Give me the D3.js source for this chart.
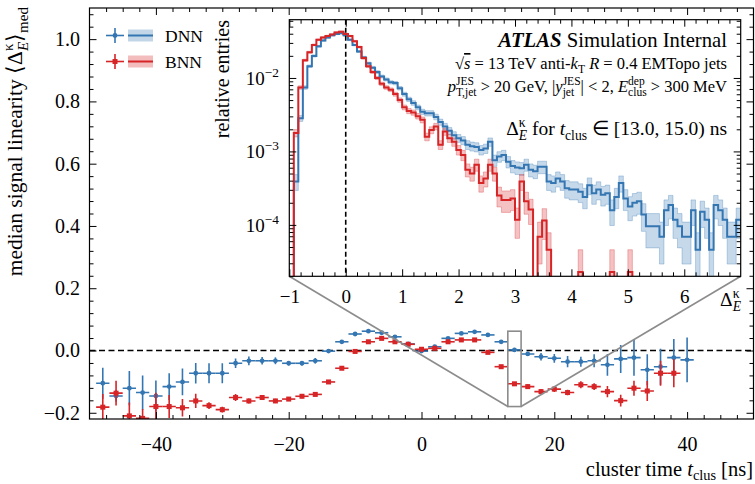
<!DOCTYPE html>
<html>
<head>
<meta charset="utf-8">
<script src="https://cdn.jsdelivr.net/npm/d3@7/dist/d3.min.js"></script>
<style>
  html, body { margin: 0; padding: 0; background: #fff; }
  svg { display: block; }
  text { font-family: "Liberation Serif", "Times New Roman", serif; fill: #000; white-space: pre; }
</style>
</head>
<body>
<svg id="chart" width="755" height="484"></svg>
<script>
// ---------- median signal linearity per 2 ns cluster-time bin ----------
const tClus = [-48,-46,-44,-42,-40,-38,-36,-34,-32,-30,-28,-26,-24,-22,-20,-18,-16,-14,-12,-10,
               -8,-6,-4,-2,0,2,4,6,8,10,12,14,16,18,20,22,24,26,28,30,32,34,36,38,40];
const tBinWidth = 2;
const dnnMedian = [-0.105,-0.146,-0.121,-0.135,-0.146,-0.116,-0.101,-0.073,-0.073,-0.073,
                   -0.041,-0.033,-0.033,-0.033,-0.041,-0.041,-0.033,-0.002,0.028,0.053,
                   0.062,0.057,0.044,0.021,-0.002,0.012,0.039,0.055,0.060,0.050,
                   0.028,0.002,-0.011,-0.020,-0.025,-0.036,-0.036,-0.033,-0.046,-0.027,
                   -0.023,-0.062,-0.052,-0.023,-0.030];
const dnnMedianErr = [0.050,0.018,0.055,0.055,0.050,0.043,0.043,0.033,0.032,0.032,
                      0.015,0.014,0.012,0.011,0.007,0.007,0.009,0.006,0.005,0.004,
                      0.004,0.004,0.004,0.004,0.004,0.004,0.004,0.004,0.004,0.004,
                      0.005,0.006,0.007,0.012,0.014,0.018,0.016,0.021,0.035,0.045,
                      0.058,0.050,0.058,0.060,0.072];
const bnnMedian = [-0.182,-0.137,-0.210,-0.218,-0.180,-0.180,-0.184,-0.162,-0.177,-0.190,
                   -0.151,-0.162,-0.151,-0.162,-0.156,-0.147,-0.141,-0.101,-0.057,-0.003,
                   0.028,0.039,0.028,0.020,0.004,0.007,0.028,0.034,0.034,-0.006,
                   -0.052,-0.107,-0.116,-0.132,-0.124,-0.135,-0.110,-0.116,-0.132,-0.161,
                   -0.121,-0.130,-0.073,-0.073,null];
const bnnMedianErr = [0.042,0.040,0.043,0.030,0.044,0.037,0.028,0.023,0.011,0.009,
                      0.011,0.008,0.007,0.007,0.006,0.006,0.006,0.005,0.005,0.004,
                      0.004,0.004,0.004,0.004,0.004,0.004,0.004,0.004,0.004,0.004,
                      0.005,0.005,0.008,0.008,0.009,0.009,0.011,0.011,0.018,0.019,
                      0.024,0.032,0.040,0.045,null];

// ---------- Delta distribution for t_clus in [13, 15) ns ----------
// log10(relative entries) per 0.08-wide bin starting at -1; null = empty bin
const deltaRange = [-1, 7];
const deltaBinWidth = 0.08;
const dnnLogEntries = [
  null,-3.41,-2.55,-2.13,-1.84,-1.70,-1.57,-1.49,-1.45,-1.42,
  -1.40,-1.39,-1.42,-1.48,-1.55,-1.64,-1.72,-1.80,-1.86,-1.92,
  -1.98,-2.02,-2.06,-2.07,-2.14,-2.22,-2.29,-2.34,-2.40,-2.46,
  -2.48,-2.48,-2.53,-2.60,-2.66,-2.72,-2.78,-2.82,-2.85,-2.91,
  -2.93,-2.94,-2.98,-2.96,-2.87,-3.12,-3.07,-3.05,-3.14,-3.20,
  -3.22,-3.23,-3.18,-3.25,-3.27,-3.21,-3.21,-3.41,-3.43,-3.37,
  -3.41,-3.50,-3.52,-3.52,-3.55,-3.62,-3.46,-3.57,-3.52,-3.59,
  -3.57,-3.80,-3.62,-3.43,-3.64,-3.75,-3.70,-3.68,-3.86,-4.02,
  -4.02,-4.02,-4.16,-3.80,-3.73,-3.93,-4.02,-4.16,-4.16,-3.80,
  -4.34,-3.82,-3.93,-4.34,-3.73,-3.80,-3.93,-4.16,-4.16,-3.93];
const bnnLogEntries = [
  null,-2.75,-2.13,-1.76,-1.65,-1.55,-1.48,-1.45,-1.43,-1.41,
  -1.38,-1.37,-1.40,-1.43,-1.50,-1.58,-1.73,-1.84,-1.92,-2.00,
  -2.08,-2.13,-2.16,-2.22,-2.30,-2.40,-2.45,-2.47,-2.52,-2.57,
  -2.80,-2.71,-2.66,-2.91,-2.73,-2.82,-2.87,-2.98,-3.05,-3.25,
  -3.30,-3.18,-3.43,-3.37,-3.18,-3.30,-3.60,-3.66,-3.66,-3.64,
  -3.93,-3.41,-3.68,-3.79,null,-4.16,-3.94,-4.34,null,null,
  null,null,null,null,-4.64,null,null,null,null,null,
  null,-4.64,null,null,null,-4.64,null,null,null,null,
  null,null,null,null,null,null,null,null,null,null,
  null,null,null,null,null,null,null,null,null,null];
const unitWeight = 2.3e-5;   // relative weight of one entry (Poisson band)

// ---------- axes ----------
const mainXTicks = [-40, -20, 0, 20, 40];
const mainYTicks = [-0.2, 0.0, 0.2, 0.4, 0.6, 0.8, 1.0];
const insetXTicks = [-1, 0, 1, 2, 3, 4, 5, 6];
const insetYDecades = [-4, -3, -2];
const zoomWindow = { t: [13, 15], y: [-0.18, 0.062] };
const seriesNames = ["DNN", "BNN"];

const BLUE = "#3476b2", RED = "#d62427", GREY = "#8c8c8c";
const FONT = '"Liberation Serif", "Times New Roman", serif';

const svg = d3.select("#chart");
const defs = svg.append("defs");

// rich text with sub/superscripts
function richText(parent, parts, size, attrs, subShift) {
  const t = parent.append("text").attr("font-size", size);
  Object.entries(attrs || {}).forEach(([k, v]) => t.attr(k, v));
  const sub = subShift == null ? 0.27 : subShift;
  let base = 0, prev = null;
  parts.forEach(p => {
    const o = typeof p === "string" ? { t: p } : p;
    const ts = t.append("tspan").text(o.t);
    const off = o.sub ? sub * size : o.sup ? -0.42 * size : 0;
    if (off !== base) ts.attr("dy", off - base);
    base = off;
    if (o.sub || o.sup) ts.attr("font-size", size * 0.7);
    if (o.it) ts.attr("font-style", "italic");
    if (o.bf) ts.attr("font-weight", "bold");
    if (o.over) ts.attr("text-decoration", "overline");
    if (o.stack && prev) ts.attr("dx", -prev.node().getComputedTextLength());
    prev = ts;
  });
  return t;
}

function styleAxis(g, size) {
  g.attr("font-family", FONT).attr("font-size", size);
  g.select(".domain").remove();
  g.selectAll(".tick line").attr("stroke", "#000").attr("stroke-width", 1);
  g.selectAll(".tick text").attr("fill", "#000");
}

// ================= main panel =================
const M = { l: 89.5, r: 753.5, t: 8, b: 419 };
const x = d3.scaleLinear().domain([-50, 50]).range([M.l, M.r]);
const y = d3.scaleLinear().domain([-0.22, 1.1]).range([M.b, M.t]);

defs.append("clipPath").attr("id", "mainClip").append("rect")
  .attr("x", M.l).attr("y", M.t).attr("width", M.r - M.l).attr("height", M.b - M.t);

const plot = svg.append("g").attr("clip-path", "url(#mainClip)");

plot.append("line")
  .attr("x1", M.l).attr("x2", M.r).attr("y1", y(0)).attr("y2", y(0))
  .attr("stroke", "#000").attr("stroke-width", 1.6).attr("stroke-dasharray", "6,3.5");

function drawMedians(vals, errs, color, marker) {
  const g = plot.append("g").attr("stroke", color).attr("fill", color);
  tClus.forEach((t, i) => {
    const v = vals[i];
    if (v == null) return;
    g.append("line").attr("x1", x(t - tBinWidth / 2)).attr("x2", x(t + tBinWidth / 2))
      .attr("y1", y(v)).attr("y2", y(v)).attr("stroke-width", 1.6);
    g.append("line").attr("x1", x(t)).attr("x2", x(t))
      .attr("y1", y(v - errs[i])).attr("y2", y(v + errs[i])).attr("stroke-width", 1.6);
    if (marker === "circle") {
      g.append("circle").attr("cx", x(t)).attr("cy", y(v)).attr("r", 2.4).attr("stroke", "none");
    } else {
      g.append("rect").attr("x", x(t) - 2.5).attr("y", y(v) - 2.5)
        .attr("width", 5).attr("height", 5).attr("stroke", "none");
    }
  });
}
drawMedians(dnnMedian, dnnMedianErr, BLUE, "circle");
drawMedians(bnnMedian, bnnMedianErr, RED, "square");

// main axes (ticks pointing inward on all four sides)
const xMinor = d3.range(-19, 20).map(k => k * 2.5).filter(v => v % 20 !== 0);
const yMinor = d3.range(-5, 28).map(k => +(k * 0.04).toFixed(2)).filter((v, i) => (i % 5) !== 0);

svg.append("g").attr("transform", `translate(0,${M.b})`)
  .call(d3.axisBottom(x).tickValues(mainXTicks).tickSize(-7).tickPadding(18).tickFormat(d3.format("d")))
  .call(g => styleAxis(g, 20));
svg.append("g").attr("transform", `translate(0,${M.b})`)
  .call(d3.axisBottom(x).tickValues(xMinor).tickSize(-4).tickFormat(""))
  .call(g => styleAxis(g, 20));
svg.append("g").attr("transform", `translate(0,${M.t})`)
  .call(d3.axisTop(x).tickValues(mainXTicks).tickSize(-7).tickFormat(""))
  .call(g => styleAxis(g, 20));
svg.append("g").attr("transform", `translate(0,${M.t})`)
  .call(d3.axisTop(x).tickValues(xMinor).tickSize(-4).tickFormat(""))
  .call(g => styleAxis(g, 20));
svg.append("g").attr("transform", `translate(${M.l},0)`)
  .call(d3.axisLeft(y).tickValues(mainYTicks).tickSize(-7).tickPadding(9.5).tickFormat(d3.format(".1f")))
  .call(g => styleAxis(g, 20));
svg.append("g").attr("transform", `translate(${M.l},0)`)
  .call(d3.axisLeft(y).tickValues(yMinor).tickSize(-4).tickFormat(""))
  .call(g => styleAxis(g, 20));
svg.append("g").attr("transform", `translate(${M.r},0)`)
  .call(d3.axisRight(y).tickValues(mainYTicks).tickSize(-7).tickFormat(""))
  .call(g => styleAxis(g, 20));
svg.append("g").attr("transform", `translate(${M.r},0)`)
  .call(d3.axisRight(y).tickValues(yMinor).tickSize(-4).tickFormat(""))
  .call(g => styleAxis(g, 20));

svg.append("rect").attr("x", M.l).attr("y", M.t).attr("width", M.r - M.l).attr("height", M.b - M.t)
  .attr("fill", "none").attr("stroke", "#000").attr("stroke-width", 1.2);

// axis titles
richText(svg, ["cluster time ", { t: "t", it: true }, { t: "clus", sub: true }, " [ns]"], 20.5,
  { x: 753, y: 476, "text-anchor": "end" }, 0.18);
richText(svg, ["median signal linearity \u27E8\u0394", { t: "\u03BA", sup: true },
  { t: "E", sub: true, it: true, stack: true }, "\u27E9", { t: "med", sub: true }], 21.5,
  { transform: "translate(22,7) rotate(-90)", "text-anchor": "end" });

// legend
const legend = svg.append("g");
[[BLUE, "circle", 35.5], [RED, "square", 61.5]].forEach(([c, mk, ly], i) => {
  legend.append("line").attr("x1", 106).attr("x2", 124).attr("y1", ly).attr("y2", ly)
    .attr("stroke", c).attr("stroke-width", 1.6);
  legend.append("line").attr("x1", 115).attr("x2", 115).attr("y1", ly - 7.5).attr("y2", ly + 7.5)
    .attr("stroke", c).attr("stroke-width", 1.6);
  if (mk === "circle") legend.append("circle").attr("cx", 115).attr("cy", ly).attr("r", 2.4).attr("fill", c);
  else legend.append("rect").attr("x", 112.5).attr("y", ly - 2.5).attr("width", 5).attr("height", 5).attr("fill", c);
  legend.append("rect").attr("x", 128).attr("y", ly - 6).attr("width", 25).attr("height", 12)
    .attr("fill", c).attr("fill-opacity", 0.3);
  legend.append("line").attr("x1", 128).attr("x2", 153).attr("y1", ly).attr("y2", ly)
    .attr("stroke", c).attr("stroke-width", 2);
  legend.append("text").attr("x", 165).attr("y", ly + 6.5).attr("font-size", 17.5).text(seriesNames[i]);
});

// ================= inset =================
const I = { l: 289.3, r: 740.7, t: 19.7, b: 276.3 };
const hx = d3.scaleLinear().domain(deltaRange).range([I.l, I.r]);
const hy = d3.scaleLog().domain([Math.pow(10, -4.7), Math.pow(10, -1.207)]).range([I.b, I.t]);

// zoom indicator and connectors
const zx0 = x(zoomWindow.t[0]), zx1 = x(zoomWindow.t[1]);
const zyTop = y(zoomWindow.y[1]), zyBot = y(zoomWindow.y[0]);
svg.append("rect").attr("x", zx0).attr("y", zyTop).attr("width", zx1 - zx0).attr("height", zyBot - zyTop)
  .attr("fill", "none").attr("stroke", GREY).attr("stroke-width", 1.6);
svg.append("line").attr("x1", I.l).attr("y1", I.b).attr("x2", zx0).attr("y2", zyBot)
  .attr("stroke", GREY).attr("stroke-width", 1.6);
svg.append("line").attr("x1", I.r).attr("y1", I.b).attr("x2", zx1).attr("y2", zyBot)
  .attr("stroke", GREY).attr("stroke-width", 1.6);

svg.append("rect").attr("x", I.l).attr("y", I.t).attr("width", I.r - I.l).attr("height", I.b - I.t)
  .attr("fill", "#fff");

defs.append("clipPath").attr("id", "insetClip").append("rect")
  .attr("x", I.l).attr("y", I.t).attr("width", I.r - I.l).attr("height", I.b - I.t);
const inset = svg.append("g").attr("clip-path", "url(#insetClip)");

const edges = d3.range(dnnLogEntries.length + 1).map(i => deltaRange[0] + i * deltaBinWidth);

function binGeom(vals) {
  return vals.map((v, i) => {
    if (v == null) return null;
    const c = Math.pow(10, v);
    const rel = 1 / Math.sqrt(c / unitWeight);
    const lo = c * (1 - rel);
    return {
      x0: hx(edges[i]), x1: hx(edges[i + 1]), yc: hy(c),
      yHi: hy(c * (1 + rel)), yLo: lo > 0 ? Math.min(hy(lo), I.b + 5) : I.b + 5
    };
  });
}
function bandPath(geom) {
  let d = "", run = [];
  const flush = () => {
    if (!run.length) return;
    const up = run.map(b => `L${b.x0},${b.yHi}L${b.x1},${b.yHi}`).join("");
    const dn = run.slice().reverse().map(b => `L${b.x1},${b.yLo}L${b.x0},${b.yLo}`).join("");
    d += "M" + (up + dn).slice(1) + "Z";
    run = [];
  };
  geom.forEach(b => { if (b == null) flush(); else run.push(b); });
  flush();
  return d;
}
function stepPath(geom) {
  return geom.map((b, i) => {
    const yy = b == null ? I.b + 5 : b.yc;
    const x0 = hx(edges[i]), x1 = hx(edges[i + 1]);
    return (i === 0 ? "M" : "L") + `${x0},${yy}L${x1},${yy}`;
  }).join("");
}

[[dnnLogEntries, BLUE], [bnnLogEntries, RED]].forEach(([vals, c]) => {
  const geom = binGeom(vals);
  inset.append("path").attr("d", bandPath(geom)).attr("fill", c).attr("fill-opacity", 0.28)
    .attr("stroke", c).attr("stroke-opacity", 0.3).attr("stroke-width", 1);
});
[[dnnLogEntries, BLUE], [bnnLogEntries, RED]].forEach(([vals, c]) => {
  inset.append("path").attr("d", stepPath(binGeom(vals))).attr("fill", "none")
    .attr("stroke", c).attr("stroke-width", 2).attr("stroke-linejoin", "miter");
});

inset.append("line").attr("x1", hx(0)).attr("x2", hx(0)).attr("y1", I.t).attr("y2", I.b)
  .attr("stroke", "#000").attr("stroke-width", 1.6).attr("stroke-dasharray", "5,3");

// inset axes
const hxMinor = d3.range(-4, 35).map(k => +(k * 0.2).toFixed(1)).filter(v => v > -1 && v < 7 && Math.abs(v - Math.round(v)) > 1e-6);
const hyMajor = insetYDecades.map(d => Math.pow(10, d));
const hyMinor = [];
[-5, -4, -3, -2].forEach(d => d3.range(2, 10).forEach(m => {
  const v = m * Math.pow(10, d);
  if (v > hy.domain()[0] * 1.001 && v < hy.domain()[1]) hyMinor.push(v);
}));

svg.append("g").attr("transform", `translate(0,${I.b})`)
  .call(d3.axisBottom(hx).tickValues(insetXTicks).tickSize(-7).tickPadding(13).tickFormat(d3.format("d")))
  .call(g => styleAxis(g, 19));
svg.append("g").attr("transform", `translate(0,${I.b})`)
  .call(d3.axisBottom(hx).tickValues(hxMinor).tickSize(-4).tickFormat(""))
  .call(g => styleAxis(g, 19));
svg.append("g").attr("transform", `translate(0,${I.t})`)
  .call(d3.axisTop(hx).tickValues(insetXTicks).tickSize(-7).tickFormat(""))
  .call(g => styleAxis(g, 19));
svg.append("g").attr("transform", `translate(0,${I.t})`)
  .call(d3.axisTop(hx).tickValues(hxMinor).tickSize(-4).tickFormat(""))
  .call(g => styleAxis(g, 19));
[[I.l, d3.axisLeft], [I.r, d3.axisRight]].forEach(([px, ax]) => {
  svg.append("g").attr("transform", `translate(${px},0)`)
    .call(ax(hy).tickValues(hyMajor).tickSize(-7).tickFormat(""))
    .call(g => styleAxis(g, 19));
  svg.append("g").attr("transform", `translate(${px},0)`)
    .call(ax(hy).tickValues(hyMinor).tickSize(-4).tickFormat(""))
    .call(g => styleAxis(g, 19));
});
insetYDecades.forEach(d => {
  richText(svg, ["10", { t: "\u2212" + Math.abs(d), sup: true }], 19,
    { x: 279, y: hy(Math.pow(10, d)) + 7, "text-anchor": "end" });
});

svg.append("rect").attr("x", I.l).attr("y", I.t).attr("width", I.r - I.l).attr("height", I.b - I.t)
  .attr("fill", "none").attr("stroke", "#000").attr("stroke-width", 1.2);

// inset titles and annotations
richText(svg, ["\u0394", { t: "\u03BA", sup: true }, { t: "E", sub: true, it: true, stack: true }], 19.5,
  { x: 741, y: 306, "text-anchor": "end" });
svg.append("text").attr("transform", "translate(229,20) rotate(-90)").attr("text-anchor", "end")
  .attr("font-size", 20).text("relative entries");

richText(svg, [{ t: "ATLAS", it: true, bf: true }, " Simulation Internal"], 20.7,
  { x: 727, y: 47, "text-anchor": "end" });
richText(svg, ["\u221A", { t: "s", it: true, over: true }, " = 13 TeV anti-", { t: "k", it: true },
  { t: "T", sub: true }, " ", { t: "R", it: true }, " = 0.4 EMTopo jets"], 16.5,
  { x: 727, y: 69, "text-anchor": "end" });
richText(svg, [{ t: "p", it: true }, { t: "JES", sup: true }, { t: "T,jet", sub: true, stack: true },
  " > 20 GeV, |", { t: "y", it: true }, { t: "jet", sub: true }, { t: "JES", sup: true, stack: true },
  "| < 2, ", { t: "E", it: true }, { t: "dep", sup: true }, { t: "clus", sub: true, stack: true },
  " > 300 MeV"], 16.5, { x: 727, y: 92, "text-anchor": "end" });
richText(svg, ["\u0394", { t: "\u03BA", sup: true }, { t: "E", sub: true, it: true, stack: true },
  " for ", { t: "t", it: true }, { t: "clus", sub: true }, " \u2208 [13.0, 15.0) ns"], 19.5,
  { x: 727, y: 135, "text-anchor": "end" });
</script>
</body>
</html>
